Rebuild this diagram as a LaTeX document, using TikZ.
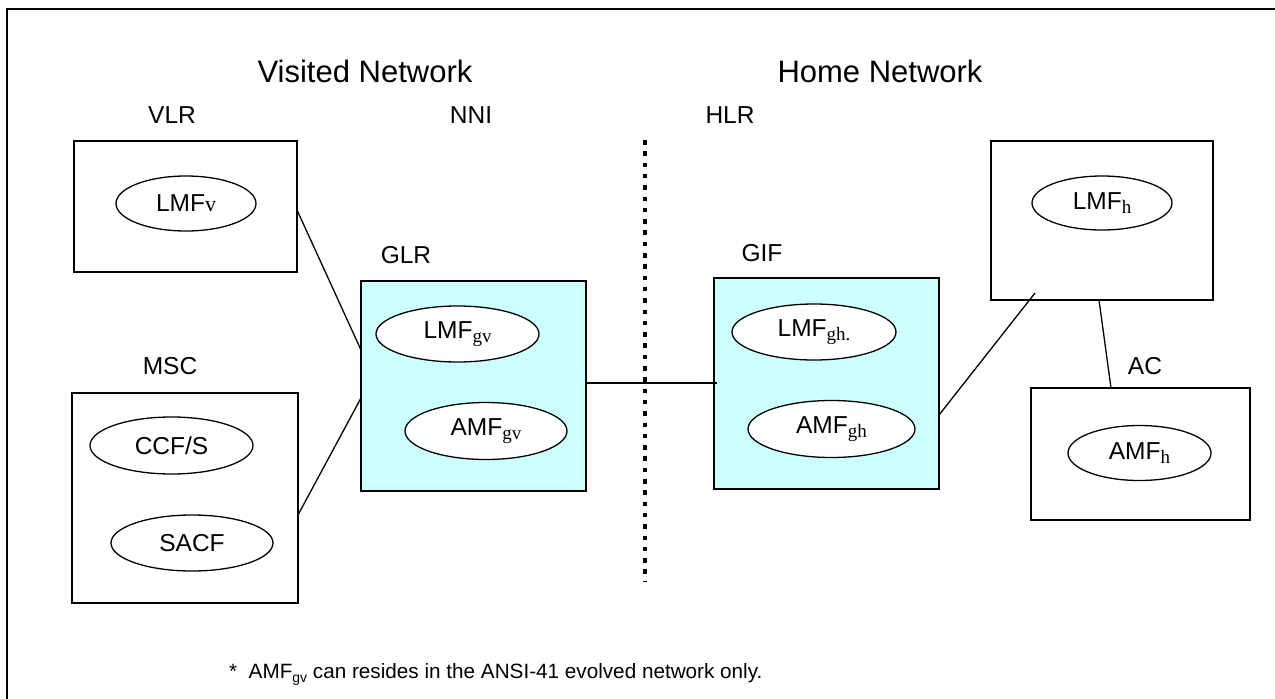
\documentclass[tikz,border=0pt]{standalone}
\usepackage{fontspec}
\setmainfont{Liberation Sans}
\newfontfamily\serifsub{Liberation Serif}
\usetikzlibrary{shapes.geometric}
\definecolor{glrfill}{RGB}{204,255,255}
\newcommand{\ssub}[1]{\raisebox{-3.5pt}{\serifsub\fontsize{19}{19}\selectfont #1}}
\begin{document}
\begin{tikzpicture}[x=1pt,y=-1pt,
  lbl/.style={font=\fontsize{24.5}{27}\selectfont, inner sep=0pt},
  title/.style={font=\fontsize{31}{34}\selectfont, inner sep=0pt},
  unit/.style={draw, line width=1.5pt, fill=white},
  gateway/.style={draw, line width=1.5pt, fill=glrfill},
  func/.style={draw, line width=1.3pt, ellipse, fill=white, inner sep=0pt,
    font=\fontsize{24.5}{27}\selectfont},
  link/.style={line width=1.3pt}
]
\useasboundingbox (0,0) rectangle (1275,699);
% frame
\draw[line width=2.8pt] (7,699) -- (7,9) -- (1275,9);

% titles and labels
\node[title] (tv) at (365,71) {Visited Network};
\node[title] (th) at (880,71) {Home Network};
\node[lbl] (lvlr) at (172,115) {VLR};
\node[lbl] (lnni) at (471,115) {NNI};
\node[lbl] (lhlr) at (730,115) {HLR};
\node[lbl] (lglr) at (406,255) {GLR};
\node[lbl] (lmsc) at (170,366) {MSC};
\node[lbl] (lgif) at (762,253) {GIF};
\node[lbl] (lac) at (1145,366) {AC};

% boundary between networks
\draw[line width=4.5pt, dash pattern=on 4.5pt off 6.8pt] (645,140) coordinate (nnitop) -- (645,582) coordinate (nnibot);

% boxes
\draw[unit] (74,141) rectangle (297,272);
\coordinate (vlrR) at (297,210);
\draw[unit] (72,393) rectangle (298,603);
\coordinate (mscR) at (298,515);
\draw[gateway] (361,281) rectangle (586,491);
\coordinate (glrL1) at (361,350);
\coordinate (glrL2) at (361,398);
\coordinate (glrR) at (586,383);
\draw[gateway] (714,278) rectangle (939,489);
\coordinate (gifL) at (717,383);
\coordinate (gifR) at (939,415);
\draw[unit] (991,141) rectangle (1213,300);
\coordinate (hlrIn) at (1035,293);
\coordinate (hlrB) at (1099,300);
\draw[unit] (1031,388) rectangle (1250,520);
\coordinate (acT) at (1111,388);

% functions
\node[func, minimum width=140pt, minimum height=55pt] (lmfv) at (186,203.5) {LMF{\serifsub\fontsize{22}{22}\selectfont v}};
\node[func, minimum width=163pt, minimum height=57pt] (ccfs) at (171.5,445.5) {CCF/S};
\node[func, minimum width=162pt, minimum height=56pt] (sacf) at (192,543) {SACF};
\node[func, minimum width=163pt, minimum height=56pt] (lmfgv) at (457.5,334) {LMF\ssub{gv}};
\node[func, minimum width=162pt, minimum height=57pt] (amfgv) at (486,431) {AMF\ssub{gv}};
\node[func, minimum width=164pt, minimum height=56pt] (lmfgh) at (814,332) {LMF\ssub{gh.}};
\node[func, minimum width=167pt, minimum height=57pt] (amfgh) at (831.5,429) {AMF\ssub{gh}};
\node[func, minimum width=140pt, minimum height=54pt] (lmfh) at (1102,203) {LMF\ssub{h}};
\node[func, minimum width=143pt, minimum height=55pt] (amfh) at (1139.5,453) {AMF\ssub{h}};

% links
\draw[link] (vlrR) -- (glrL1);
\draw[link] (mscR) -- (glrL2);
\draw[link] (glrR) -- (gifL);
\draw[link] (gifR) -- (hlrIn);
\draw[link] (hlrB) -- (acT);

% note
\node[anchor=base west, inner sep=0pt, font=\fontsize{20.7}{24}\selectfont] (note) at (229,678)
  {*\ \ AMF\raisebox{-4pt}{\fontsize{14}{14}\selectfont gv} can resides in the ANSI-41 evolved network only.};
\end{tikzpicture}
\end{document}
